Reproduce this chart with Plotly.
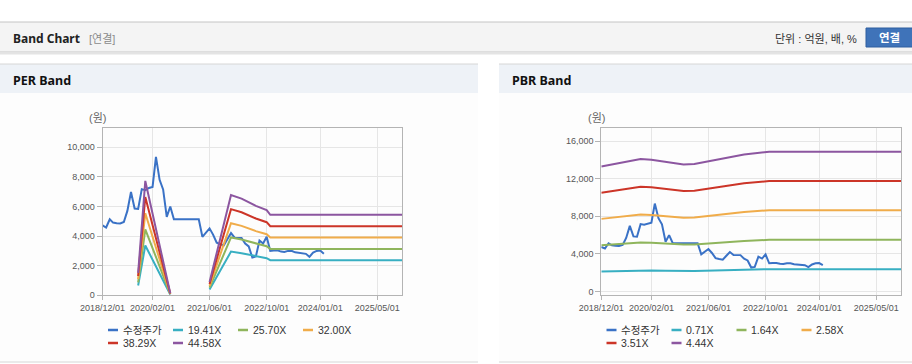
import plotly.graph_objects as go
import pandas as pd

W, H = 912, 364


def fx(x):
    return x / W


def fy(y):
    return 1 - y / H


# ---------------- data ----------------
price = [4730, 4580, 5130, 4910, 4870, 4850, 4950, 5700, 6980, 5860, 5830, 7170,
         7100, 7250, 7320, 9350, 7800, 7150, 5300, 6000, 5140, 5140, 5140, 5140,
         5140, 5140, 5140, 5140, 3950, 4250, 4520, 4100, 3550, 3450, 3380, 3800,
         4200, 3890, 3880, 3870, 3500, 3300, 2550, 2620, 3700, 3500, 3950, 3000,
         3020, 3040, 2950, 2930, 3000, 3010, 2900, 2860, 2830, 2800, 2600, 2880,
         3000, 3020, 2800]
price_dates = pd.date_range("2018-12-01", periods=len(price), freq="MS").strftime("%Y-%m-%d").tolist()

per_dates = ["2019-10-01", "2019-12-01", "2020-07-01", "2021-01-01", "2021-06-01", "2021-12-01",
             "2022-03-01", "2022-07-01", "2022-10-01", "2022-11-01", "2025-12-01"]
per_19_41 = [660, 3364, 58, None, 388, 2950, 2844, 2630, 2504, 2368, 2368]
per_25_70 = [874, 4454, 77, None, 514, 3906, 3765, 3482, 3315, 3135, 3135]
per_32_00 = [1088, 5546, 96, None, 640, 4864, 4688, 4336, 4128, 3904, 3904]
per_38_29 = [1302, 6636, 115, None, 766, 5820, 5610, 5188, 4939, 4671, 4671]
per_44_58 = [1516, 7726, 134, None, 892, 6776, 6531, 6041, 5751, 5439, 5439]

pbr_dates = ["2018-12-01", "2019-11-01", "2020-02-01", "2020-06-01", "2020-11-01", "2021-02-01",
             "2021-05-01", "2021-11-01", "2022-04-01", "2022-11-01", "2025-12-01"]
pbr_0_71 = [2126, 2256, 2241, 2206, 2163, 2170, 2206, 2271, 2329, 2379, 2379]
pbr_1_64 = [4912, 5210, 5177, 5095, 4995, 5012, 5095, 5245, 5379, 5494, 5494]
pbr_2_58 = [7727, 8197, 8145, 8016, 7859, 7884, 8016, 8251, 8462, 8643, 8643]
pbr_3_51 = [10512, 11151, 11081, 10906, 10691, 10727, 10906, 11225, 11513, 11759, 11759]
pbr_4_44 = [13298, 14106, 14017, 13795, 13524, 13569, 13795, 14199, 14563, 14874, 14874]

per_names = ["수정주가", "19.41X", "25.70X", "32.00X", "38.29X", "44.58X"]
pbr_names = ["수정주가", "0.71X", "1.64X", "2.58X", "3.51X", "4.44X"]
colors = ["#3a72c6", "#38afc2", "#8fb55c", "#f0ac4a", "#cc3528", "#8c56a0"]

tick_dates = ["2018-12-01", "2020-02-01", "2021-06-01", "2022-10-01", "2024-01-01", "2025-05-01"]
tick_text = ["2018/12/01", "2020/02/01", "2021/06/01", "2022/10/01", "2024/01/01", "2025/05/01"]

# ---------------- figure ----------------
fig = go.Figure()

per_series = [price, per_19_41, per_25_70, per_32_00, per_38_29, per_44_58]
pbr_series = [price, pbr_0_71, pbr_1_64, pbr_2_58, pbr_3_51, pbr_4_44]

for i, (name, vals) in enumerate(zip(per_names, per_series)):
    xs = price_dates if i == 0 else per_dates
    fig.add_trace(go.Scatter(x=xs, y=vals, mode="lines", name=name,
                             line=dict(color=colors[i], width=2), xaxis="x", yaxis="y",
                             showlegend=False))
for i, (name, vals) in enumerate(zip(pbr_names, pbr_series)):
    xs = price_dates if i == 0 else pbr_dates
    fig.add_trace(go.Scatter(x=xs, y=vals, mode="lines", name=name,
                             line=dict(color=colors[i], width=2), xaxis="x2", yaxis="y2",
                             showlegend=False))

FONT = "Liberation Sans, Arial, Noto Sans CJK KR, sans-serif"
BOLD = "Noto Sans, Noto Sans CJK KR, sans-serif"

xa = dict(type="date", range=["2018-12-01", "2025-12-01"], tickvals=tick_dates, ticktext=tick_text,
          showgrid=True, gridcolor="#e6e6e6", showline=True, linecolor="#b4b4b4", mirror=True,
          ticks="outside", ticklen=4, tickcolor="#b4b4b4", automargin=False,
          tickfont=dict(family=FONT, size=9, color="#555555"), zeroline=False)
ya = dict(showgrid=True, gridcolor="#e6e6e6", showline=True, linecolor="#b4b4b4", mirror=True,
          ticks="outside", ticklen=5, tickcolor="#b4b4b4", tickformat=",d", automargin=False,
          tickfont=dict(family=FONT, size=9, color="#555555"), zeroline=False)

ydom = [fy(295.3), fy(128)]
fig.update_layout(
    template="none",
    width=W, height=H, margin=dict(l=0, r=0, t=0, b=0, pad=0, autoexpand=False),
    paper_bgcolor="white", plot_bgcolor="white", showlegend=False,
    font=dict(family=FONT),
    xaxis=dict(xa, domain=[fx(102.5), fx(402.3)], anchor="y"),
    yaxis=dict(ya, domain=ydom, anchor="x", range=[0, 11300], tickvals=[0, 2000, 4000, 6000, 8000, 10000]),
    xaxis2=dict(xa, domain=[fx(601.3), fx(901.3)], anchor="y2"),
    yaxis2=dict(ya, domain=ydom, anchor="x2", range=[-404, 17394], tickvals=[0, 4000, 8000, 12000, 16000]),
)

shapes = []
ann = []


def rect(x0, y0, x1, y1, fill, line=None):
    shapes.append(dict(type="rect", xref="paper", yref="paper", x0=fx(x0), x1=fx(x1), y0=fy(y1), y1=fy(y0),
                       fillcolor=fill, line=dict(width=0) if line is None else dict(color=line, width=1),
                       layer="below"))


def hline(x0, x1, y, color, width=1):
    shapes.append(dict(type="line", xref="paper", yref="paper", x0=fx(x0), x1=fx(x1), y0=fy(y), y1=fy(y),
                       line=dict(color=color, width=width), layer="below"))


def text(x, y, s, size, color, family=FONT, xanchor="left", bold=False):
    ann.append(dict(xref="paper", yref="paper", x=fx(x), y=fy(y), text=("<b>%s</b>" % s) if bold else s,
                    showarrow=False, xanchor=xanchor, yanchor="middle",
                    font=dict(family=family, size=size, color=color)))


# header bar
rect(0, 22, 912, 52, "#f4f4f4")
hline(0, 912, 22, "#c4c4c4")
hline(0, 912, 52, "#c8c8c8")
hline(0, 912, 53.5, "#e4e4e4", 2)
text(11, 38.5, "Band Chart", 12, "#222222", BOLD, bold=True)
text(87, 39, "[연결]", 11, "#8a8a8a")
text(859, 39, "단위 : 억원, 배, %", 11, "#333333", xanchor="right")
shapes.append(dict(type="rect", xref="paper", yref="paper", x0=fx(866), x1=fx(914), y0=fy(47), y1=fy(28),
                   fillcolor="#3f73b9", line=dict(color="#2f5f9f", width=1), layer="below"))
text(889, 37.5, "연결", 11.5, "#ffffff", BOLD, xanchor="center", bold=True)

# panels
for (x0, x1, title) in [(0, 478, "PER Band"), (499, 912, "PBR Band")]:
    rect(x0, 64, x1, 93, "#eef2f7")
    rect(x0, 93, x1, 362, "#fdfdfd")
    hline(x0, x1, 64, "#d6d6d6")
    hline(x0, x1, 362, "#d6d6d6")
    text(x0 + 11, 80.5, title, 12.5, "#111111", BOLD, bold=True)

text(97, 118, "(원)", 11, "#666666", xanchor="center")
text(596, 118, "(원)", 11, "#666666", xanchor="center")

# legends (built from the series names and colours)
for names, base in [(per_names, 108), (pbr_names, 606.5)]:
    for i, name in enumerate(names):
        row, col = divmod(i, 4)
        x = base + col * 65
        y = 330 + row * 13
        shapes.append(dict(type="line", xref="paper", yref="paper", x0=fx(x), x1=fx(x + 10), y0=fy(y), y1=fy(y),
                           line=dict(color=colors[i], width=2.5)))
        text(x + 12.5, y, name, 10.5, "#333333")

fig.update_layout(shapes=shapes, annotations=ann)

fig.write_html("out.html", config=dict(displayModeBar=False),
               post_script="document.body.style.margin='0';document.body.style.overflow='hidden';")
